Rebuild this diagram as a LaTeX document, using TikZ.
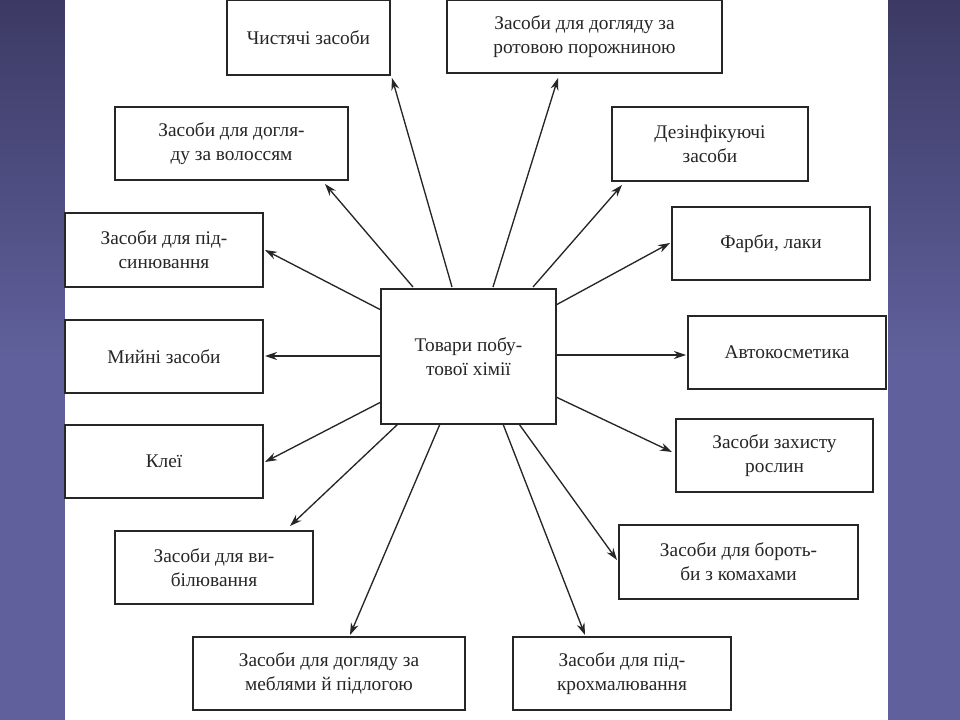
\documentclass[tikz,border=0pt]{standalone}
\usepackage{fontspec}
\setmainfont{Liberation Serif}
\usetikzlibrary{arrows.meta}
\definecolor{sidebg}{RGB}{96,96,156}
\definecolor{sidetop}{RGB}{60,58,100}
\begin{document}
\begin{tikzpicture}[x=0.75pt,y=-0.75pt,
  box/.style={draw=black!85,line width=1.2pt,fill=white,align=center,font=\fontsize{14.5}{18}\selectfont,text=black!85,inner sep=0pt},
  arr/.style={-{Stealth[length=9pt,width=6pt]},line width=1pt,black!85}]
\useasboundingbox (0,0) rectangle (960,720);
\shade[top color=sidetop,bottom color=sidebg,middle color=sidebg] (0,0) rectangle (960,720);
\fill[white] (65,0) rectangle (888,720);
\newcommand\bx[6]{\node[box,minimum width={(#4-#2)*0.75pt},minimum height={(#5-#3)*0.75pt}] (#1) at ({(#2+#4)/2},{(#3+#5)/2}) {#6};}
\bx{c}{381}{289}{556}{424}{Товари побу-\\тової хімії}
\bx{b1}{227}{0}{390}{75}{Чистячі засоби}
\bx{b2}{447}{0}{722}{73}{Засоби для догляду за\\ротовою порожниною}
\bx{b3}{115}{107}{348}{180}{Засоби для догля-\\ду за волоссям}
\bx{b4}{612}{107}{808}{181}{Дезінфікуючі\\засоби}
\bx{b5}{65}{213}{263}{287}{Засоби для під-\\синювання}
\bx{b6}{672}{207}{870}{280}{Фарби, лаки}
\bx{b7}{65}{320}{263}{393}{Мийні засоби}
\bx{b8}{688}{316}{886}{389}{Автокосметика}
\bx{b9}{65}{425}{263}{498}{Клеї}
\bx{b10}{676}{419}{873}{492}{Засоби захисту\\рослин}
\bx{b11}{115}{531}{313}{604}{Засоби для ви-\\білювання}
\bx{b12}{619}{525}{858}{599}{Засоби для бороть-\\би з комахами}
\bx{b13}{193}{637}{465}{710}{Засоби для догляду за\\меблями й підлогою}
\bx{b14}{513}{637}{731}{710}{Засоби для під-\\крохмалювання}
\foreach \n/\sx/\sy/\ex/\ey in {1/452/287/392/78, 2/493/287/558/78, 3/413/287/325/184, 4/533/287/622/185,
  5/381/310/265/250, 6/556/305/670/243, 7/381/356/265/356, 8/556/355/686/355, 9/381/402/265/462,
  10/556/397/672/452, 11/398/424/290/526, 12/519/424/617/560, 13/440/424/350/635, 14/503/424/585/635}{
  \coordinate (s\n) at (\sx,\sy); \coordinate (e\n) at (\ex,\ey);
  \draw[arr] (s\n) -- (e\n);}
\end{tikzpicture}
\end{document}
